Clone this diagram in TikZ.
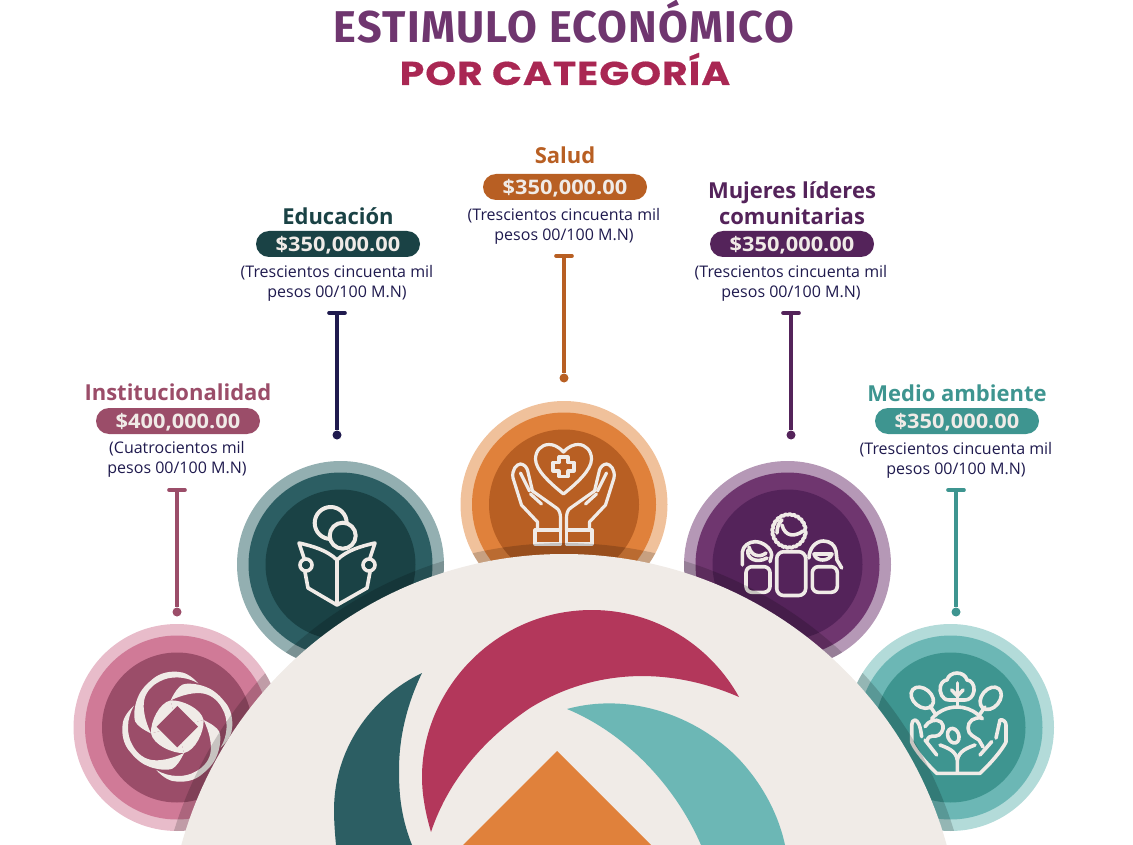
\documentclass[tikz,border=0pt]{standalone}
\usepackage{fontspec}
\usetikzlibrary{decorations.pathmorphing}
\setmainfont{Open Sans}
\newfontfamily\titlefont[FakeStretch=.97,LetterSpace=3]{Fira Sans}
\newfontfamily\subtitlefont[FakeStretch=1.19,LetterSpace=3,FakeBold=.5]{Poppins}
\newfontfamily\pillfont[FakeStretch=1.09]{Open Sans}
\definecolor{cream}{HTML}{F0EBE7}
\definecolor{navy}{HTML}{1F1A4E}
\definecolor{titlepurple}{HTML}{6F366F}
\definecolor{titlered}{HTML}{A92753}
\definecolor{logored}{HTML}{B3375B}
\definecolor{instA}{HTML}{E8BCCA}
\definecolor{instB}{HTML}{D07A97}
\definecolor{instC}{HTML}{9B4D69}
\definecolor{eduA}{HTML}{93AFB1}
\definecolor{eduB}{HTML}{2C5E63}
\definecolor{eduC}{HTML}{1A4245}
\definecolor{salA}{HTML}{F0C19B}
\definecolor{salB}{HTML}{E0813B}
\definecolor{salC}{HTML}{B85F23}
\definecolor{mujA}{HTML}{B598B6}
\definecolor{mujB}{HTML}{6F366F}
\definecolor{mujC}{HTML}{54235A}
\definecolor{medA}{HTML}{B3DBD9}
\definecolor{medB}{HTML}{6CB7B5}
\definecolor{medC}{HTML}{3E9590}
\begin{document}
\begin{tikzpicture}[x=1pt,y=-1pt,
    iconline/.style={draw=cream,line width=3.6pt,line cap=round,line join=round},
    catname/.style={font=\fontsize{22}{26}\selectfont\bfseries,align=center,inner sep=0pt},
    catpill/.style={rounded corners=13pt,minimum width=164pt,minimum height=26pt,inner sep=0pt,text depth=0pt,
      text=cream,font=\pillfont\fontsize{20}{22}\selectfont\bfseries},
    catnote/.style={text=navy,font=\fontsize{16}{20}\selectfont,align=center,inner sep=0pt},
    stemdot/.style={circle,minimum size=9pt,inner sep=0pt}]
  \clip (0,0) rectangle (1133,845);

  % titulo
  \node[anchor=base] (title) at (564,43) {\titlefont\fontsize{44.5}{50}\selectfont\bfseries\textcolor{titlepurple}{ESTIMULO ECONÓMICO}};
  \node[anchor=base] (subtitle) at (565,85) {\subtitlefont\fontsize{33}{36}\selectfont\bfseries\textcolor{titlered}{POR CATEGORÍA}};

  % discos
  \foreach \cat/\cx/\cy in {inst/177/727.5,edu/340.5/564.5,sal/564/504.5,muj/787.5/564.5,med/950.5/727.5} {
    \node (disc\cat) at (\cx,\cy) [circle,fill=\cat A,minimum size=207pt,inner sep=0pt] {};
    \fill[\cat B] (\cx,\cy) circle (92);
    \fill[\cat C] (\cx,\cy) circle (75);
  }

  % institucionalidad
  \foreach \a in {0,90,180,270} {
    \begin{scope}[shift={(177.3,726.7)},rotate=\a]
      \fill[cream] (21,-43.3) .. controls (14,-51) and (7,-55) .. (-0.7,-55)
        .. controls (-12,-55.5) and (-20,-52) .. (-25.7,-46.7)
        .. controls (-33,-41) and (-38,-34) .. (-40,-28)
        .. controls (-43,-20) and (-44,-10) .. (-42,-5)
        .. controls (-40,-1) and (-34,3) .. (-26.3,6.7)
        .. controls (-32,-5) and (-35,-18) .. (-33,-27)
        .. controls (-31,-36) and (-24,-42) .. (-18,-45)
        .. controls (-8,-51) and (8,-51) .. (21,-43.3) -- cycle;
      \fill[cream] (0,0) -- (-26.3,6.7) .. controls (-27,-5) and (-18,-24) .. (-6.7,-26.3) -- cycle;
    \end{scope}
  }
  \fill[instC] (177.3,706) -- (198,726.7) -- (177.3,747.4) -- (156.6,726.7) -- cycle;

  % educacion
  \draw[iconline,line width=4pt] (330.7,523) circle (16);
  \fill[eduC] (342.7,535.7) circle (13);
  \draw[iconline,line width=4pt] (342.7,535.7) circle (13);
  \draw[iconline] (337,560) .. controls (327,550) and (312,546) .. (299,543) -- (304,558);
  \draw[iconline] (337,560) .. controls (347,550) and (362,546) .. (375,543) -- (370,558);
  \draw[iconline] (305,572) -- (308,588) -- (337,605) -- (367,588) -- (370,572);
  \draw[iconline] (337,560) -- (337,603);
  \draw[iconline] (306,565) circle (6);
  \draw[iconline] (369,565) circle (6);

  % salud
  \draw[iconline,line width=3.2pt] (563.5,452) .. controls (558,446) and (553,444.5) .. (549,444.5)
    .. controls (541,444.5) and (535.5,451) .. (535.5,459)
    .. controls (535.5,470) and (550,483) .. (563.5,494)
    .. controls (577,483) and (591.5,470) .. (591.5,459)
    .. controls (591.5,451) and (586,444.5) .. (578,444.5)
    .. controls (574,444.5) and (569,446) .. (563.5,452) -- cycle;
  \draw[iconline,line width=3.2pt] (559,457) -- (568,457) -- (568,462.5) -- (574,462.5) -- (574,471) -- (568,471)
    -- (568,476.5) -- (559,476.5) -- (559,471) -- (553,471) -- (553,462.5) -- (559,462.5) -- cycle;
  \foreach \s in {1,-1} {
    \begin{scope}[shift={(563.5,0)},xscale=\s]
      \draw[iconline,line width=3.2pt] (-28.5,530) rectangle (-3,544);
      \draw[iconline,line width=3.2pt] (-26,530) -- (-26,522) -- (-42,505) -- (-50.5,478)
        .. controls (-52,470) and (-47,464) .. (-43,464)
        .. controls (-40,464) and (-37,467) .. (-36,470) -- (-31,491) -- (-7,508)
        .. controls (-4,510) and (-3,514) .. (-3,518) -- (-3,530);
      \draw[iconline,line width=3.2pt] (-43,473) -- (-34,491);
      \draw[iconline,line width=3.2pt] (-33,494) -- (-22,504);
    \end{scope}
  }

  % mujeres lideres
  \draw[iconline,rounded corners=7pt] (776.7,551.7) rectangle (805.7,595.5);
  \draw[iconline,rounded corners=6pt] (746,566.7) rectangle (770,592.3);
  \draw[iconline,rounded corners=6pt] (812.3,566.7) rectangle (837.3,592.3);
  \draw[iconline,decorate,decoration={bumps,segment length=8pt,amplitude=1.5pt}] (789,531) circle (15.5);
  \draw[iconline] (782,525) .. controls (785,537) and (795,537) .. (803,531);
  \draw[iconline] (777,533) .. controls (777,527) and (779,522) .. (782,520);
  \draw[iconline] (742.3,565) -- (742.3,552) .. controls (743,546) and (749,541.7) .. (755,541.7)
    .. controls (763,541.7) and (771,548) .. (771.7,555) -- (770,561.7);
  \draw[iconline] (749,547) .. controls (751,556) and (760,558) .. (766,553);
  \draw[iconline] (748,550) .. controls (746,558) and (756,564) .. (767,558);
  \draw[iconline] (809,558) .. controls (809,548) and (816,541) .. (823.3,541)
    .. controls (830,541) and (835,545) .. (836,551) -- (837,560) -- (841.7,568);
  \draw[iconline] (814,554) .. controls (816,562) and (829,562) .. (832,554) -- cycle;

  % medio ambiente
  \draw[iconline] (949,700) .. controls (942,700) and (939,692) .. (940.5,686)
    .. controls (941.5,682) and (945,680) .. (947,680)
    .. controls (948,676) and (952,673) .. (957,673)
    .. controls (962,673) and (966,676) .. (967,680)
    .. controls (971,680) and (975,685) .. (974,691)
    .. controls (973,697) and (969,700) .. (965,700) -- cycle;
  \draw[iconline] (957.3,683) -- (957.3,706);
  \draw[iconline] (951.7,690) -- (957.3,696) -- (963,690);
  \draw[iconline,rotate around={-40:(922.3,697.7)}] (922.3,697.7) ellipse (12.5 and 9);
  \draw[iconline,rotate around={50:(990.7,698.3)}] (990.7,698.3) ellipse (12.5 and 9);
  \draw[iconline] (930,706) -- (936,715);
  \draw[iconline] (985,707) -- (980,714);
  \draw[iconline] (957,740) ++(-140:33) arc[start angle=-140,end angle=-40,radius=33];
  \draw[iconline,rotate around={20:(953.3,735.7)}] (953.3,735.7) ellipse (5.5 and 7.5);
  \draw[iconline] (925,726.7) .. controls (928,721) and (936,718) .. (941,722) .. controls (945,726) and (943,732) .. (939,735) .. controls (935,738) and (929,733) .. (927,741);
  \draw[iconline] (981.7,718) .. controls (974,717) and (968,721) .. (968,728) .. controls (968,735) and (975,737) .. (979,740) -- (983,747);
  \draw[iconline] (915,720) .. controls (913,720) and (911.7,722) .. (911.7,725) -- (911.7,742) .. controls (915,750) and (925,762) .. (936.7,773.3) -- (980,773.3)
    .. controls (992,762) and (1002,750) .. (1006,742) -- (1006,725) .. controls (1006,722) and (1003,719) .. (1000,720) -- (996,738);
  \draw[iconline] (915,720) .. controls (918,721) and (920,724) .. (921.7,736.7);
  \draw[iconline] (936.7,755) -- (925,740);
  \draw[iconline] (980,755) -- (991.7,741.7);
  \draw[iconline] (957.3,773) -- (957.3,760) .. controls (956,751) and (948,748) .. (940,745);
  \draw[iconline] (957.3,760) .. controls (959,751) and (967,748) .. (975,745);

  % sombra del arco sobre los discos
  \foreach \cx/\cy in {177/727.5,340.5/564.5,564/504.5,787.5/564.5,950.5/727.5} {
    \begin{scope}
      \clip (\cx,\cy) circle (103.5);
      \fill[black,opacity=.17] (564,951) circle (408);
    \end{scope}
  }

  % logo
  \fill[cream] (564,951) circle (397);
  \fill[logored] (739,697) .. controls (710,645) and (655,610) .. (592,610)
    .. controls (495,610) and (422,690) .. (422,777)
    .. controls (422,796) and (426,815) .. (431,832)
    .. controls (450,775) and (490,735) .. (530,708)
    .. controls (595,668) and (670,667) .. (739,697) -- cycle;
  \fill[eduB] (422,673) .. controls (370,698) and (334,750) .. (334,810)
    .. controls (334,822) and (335,834) .. (336,845) -- (412,845)
    .. controls (400,815) and (399,790) .. (399,770)
    .. controls (399,735) and (408,702) .. (422,673) -- cycle;
  \fill[medB] (567,709) .. controls (625,693) and (690,712) .. (735,755)
    .. controls (760,780) and (778,812) .. (785,845) -- (701,845)
    .. controls (675,785) and (625,733) .. (567,709) -- cycle;
  \fill[salB] (557,751) -- (651,845) -- (463,845) -- cycle;

  % categorias
  \node[catname,text=instC] (nameinst) at (178,392) {Institucionalidad};
  \node[catname,text=eduC] (nameedu) at (338,216) {Educación};
  \node[catname,text=salC] (namesal) at (565,155) {Salud};
  \node[catname,text=mujC] (namemuj) at (792,203) {Mujeres líderes\\comunitarias};
  \node[catname,text=medC] (namemed) at (957,393) {Medio ambiente};
  \node[catpill,fill=instC] (pillinst) at (178,421) {\$400,000.00};
  \foreach \cat/\cx/\cy in {edu/338/244,sal/565/187,muj/792/244,med/957/421} {
    \node[catpill,fill=\cat C] (pill\cat) at (\cx,\cy) {\$350,000.00};
  }
  \node[catnote] (noteinst) at (177,459) {(Cuatrocientos mil\\pesos 00/100 M.N)};
  \node[catnote] (noteedu) at (337,283) {(Trescientos cincuenta mil\\pesos 00/100 M.N)};
  \node[catnote] (notesal) at (564,226) {(Trescientos cincuenta mil\\pesos 00/100 M.N)};
  \node[catnote] (notemuj) at (791,283) {(Trescientos cincuenta mil\\pesos 00/100 M.N)};
  \node[catnote] (notemed) at (956,460) {(Trescientos cincuenta mil\\pesos 00/100 M.N)};

  % conectores
  \foreach \cat/\col/\capx/\capy/\doty in {inst/instC/177/490/612,edu/navy/337/313/435,sal/salC/564/256/378,muj/mujC/791/313/435,med/medC/956/490/612} {
    \coordinate (cap\cat) at (\capx,\capy);
    \node (dot\cat) at (\capx,\doty) [stemdot,fill=\col] {};
    \draw[\col,line width=3.6pt] (cap\cat) -- (dot\cat);
    \draw[\col,line width=3.6pt,line cap=round] (cap\cat) +(-8,0) -- +(8,0);
  }
\end{tikzpicture}
\end{document}
